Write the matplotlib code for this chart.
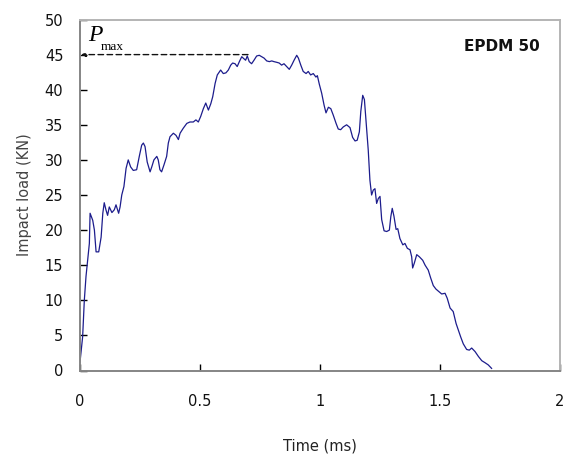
import matplotlib
matplotlib.use("Agg")
import matplotlib.pyplot as plt

time_ms = [0.000, 0.011, 0.018, 0.025, 0.032, 0.039, 0.042, 0.053, 0.060, 0.067,
           0.078, 0.088, 0.095, 0.101, 0.108, 0.115, 0.122, 0.133, 0.143, 0.150,
           0.161, 0.167, 0.174, 0.183, 0.192, 0.201, 0.211, 0.222, 0.236, 0.247,
           0.257, 0.264, 0.271, 0.280, 0.292, 0.299, 0.308, 0.320, 0.326, 0.333,
           0.340, 0.350, 0.361, 0.368, 0.375, 0.389, 0.400, 0.410, 0.417, 0.430,
           0.445, 0.458, 0.472, 0.483, 0.493, 0.503, 0.514, 0.524, 0.535, 0.545,
           0.553, 0.563, 0.572, 0.586, 0.597, 0.608, 0.618, 0.628, 0.636, 0.646,
           0.655, 0.664, 0.674, 0.680, 0.690, 0.697, 0.705, 0.715, 0.725, 0.736,
           0.747, 0.757, 0.767, 0.778, 0.789, 0.799, 0.808, 0.820, 0.830, 0.840,
           0.850, 0.861, 0.872, 0.882, 0.892, 0.903, 0.910, 0.920, 0.930, 0.942,
           0.951, 0.961, 0.972, 0.983, 0.989, 0.997, 1.007, 1.017, 1.025, 1.035,
           1.045, 1.055, 1.067, 1.076, 1.086, 1.097, 1.111, 1.125, 1.136, 1.146,
           1.155, 1.164, 1.170, 1.178, 1.185, 1.192, 1.201, 1.208, 1.215, 1.222,
           1.229, 1.236, 1.243, 1.250, 1.257, 1.267, 1.278, 1.289, 1.295, 1.301,
           1.308, 1.317, 1.324, 1.333, 1.345, 1.354, 1.364, 1.375, 1.382, 1.386,
           1.393, 1.403, 1.414, 1.428, 1.438, 1.451, 1.461, 1.472, 1.483, 1.497,
           1.507, 1.521, 1.530, 1.542, 1.555, 1.567, 1.576, 1.586, 1.597, 1.611,
           1.622, 1.632, 1.646, 1.660, 1.674, 1.688, 1.701, 1.715]

load_kn = [1.2, 4.8, 10.0, 13.4, 15.7, 18.1, 22.4, 21.4, 20.0, 16.9,
           16.9, 19.0, 22.4, 23.9, 22.9, 22.1, 23.3, 22.5, 22.9, 23.6,
           22.4, 23.3, 25.0, 26.2, 28.8, 30.0, 29.0, 28.5, 28.6, 30.5,
           32.1, 32.4, 31.9, 29.7, 28.3, 29.0, 30.0, 30.5, 30.0, 28.6,
           28.3, 29.3, 30.5, 32.4, 33.3, 33.8, 33.5, 32.9, 33.8, 34.5,
           35.2, 35.4, 35.4, 35.7, 35.4, 36.2, 37.3, 38.1, 37.1, 38.0,
           39.0, 40.9, 42.1, 42.8, 42.3, 42.4, 42.8, 43.5, 43.8, 43.7,
           43.3, 44.0, 44.7, 44.5, 44.2, 44.8, 44.0, 43.7, 44.2, 44.8,
           44.9, 44.7, 44.5, 44.1, 44.0, 44.1, 44.0, 43.9, 43.8, 43.5,
           43.7, 43.3, 42.9, 43.5, 44.2, 44.9, 44.5, 43.5, 42.6, 42.3,
           42.6, 42.1, 42.3, 41.8, 42.0, 40.8, 39.5, 37.8, 36.7, 37.5,
           37.3, 36.4, 35.2, 34.4, 34.3, 34.7, 35.0, 34.6, 33.2, 32.7,
           32.8, 34.0, 36.9, 39.2, 38.6, 35.5, 31.4, 27.1, 25.0, 25.7,
           25.9, 23.8, 24.5, 24.8, 21.5, 19.9, 19.8, 20.0, 21.9, 23.1,
           22.0, 20.1, 20.2, 18.8, 17.9, 18.1, 17.4, 17.2, 16.2, 14.6,
           15.3, 16.5, 16.2, 15.7, 15.0, 14.3, 13.2, 12.1, 11.6, 11.2,
           10.9, 11.0, 10.3, 8.9, 8.4, 6.7, 5.8, 4.8, 3.8, 3.0,
           2.9, 3.2, 2.7, 2.0, 1.4, 1.1, 0.8, 0.3]

p_max = 45
p_max_time = 0.70
x_ticks = [0, 0.5, 1, 1.5, 2]
x_tick_labels = ["0", "0.5", "1", "1.5", "2"]
y_ticks = [0, 5, 10, 15, 20, 25, 30, 35, 40, 45, 50]

fig = plt.figure(figsize=(5.71, 4.57), dpi=100)
ax = fig.add_axes([80 / 571, 1 - 370.5 / 457, 480 / 571, 351 / 457])

ax.plot(time_ms, load_kn, color="#1c1c8c", lw=0.9)

ax.annotate("", xy=(0.005, p_max), xytext=(p_max_time, p_max),
            arrowprops=dict(arrowstyle="-|>", linestyle=(0, (4, 2.5)), color="#111111",
                            lw=1.0, mutation_scale=6, shrinkA=0, shrinkB=0))

ax.set_xlim(0, 2)
ax.set_ylim(0, 50)
ax.set_xticks(x_ticks)
ax.set_xticklabels(x_tick_labels)
ax.set_yticks(y_ticks)

ax.tick_params(axis="both", direction="in", length=5, width=1, color="#000000",
               labelsize=10.5, labelcolor="#111111")
ax.tick_params(axis="x", pad=17)
ax.tick_params(axis="y", pad=12)

for side, sp in ax.spines.items():
    sp.set_color("#858585" if side in ("left", "bottom") else "#b4b4b4")
    sp.set_linewidth(1.4)

ax.set_xlabel("Time (ms)", fontsize=10.5, color="#222222", labelpad=21)
ax.set_ylabel("Impact load (KN)", fontsize=10.5, color="#444444", labelpad=9)

ax.text(0.958, 0.924, "EPDM 50", transform=ax.transAxes, ha="right", va="center",
        fontsize=11, fontweight="bold", color="#111111")

ax.text(0.016, 0.955, "P", transform=ax.transAxes, ha="left", va="center",
        fontsize=17, fontstyle="italic", family="Liberation Serif", color="#000000")
ax.text(0.043, 0.923, "max", transform=ax.transAxes, ha="left", va="center",
        fontsize=9.5, family="Liberation Serif", color="#000000")

fig.savefig("out.png", dpi=100)
